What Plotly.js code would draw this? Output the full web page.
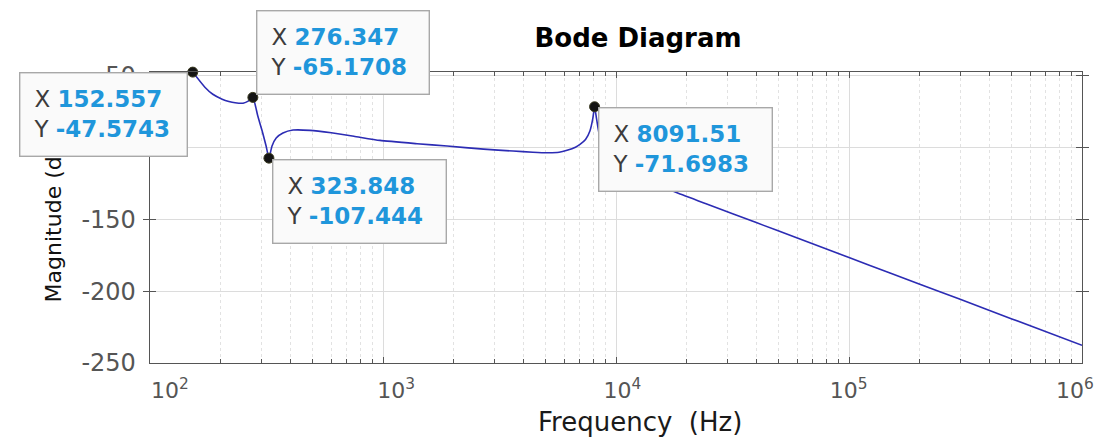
<!DOCTYPE html>
<html>
<head>
<meta charset="utf-8">
<script src="https://cdn.plot.ly/plotly-3.0.1.min.js"></script>
<style>
  html, body { margin: 0; padding: 0; background: #ffffff; }
  #plot { width: 1114px; height: 439px; }
</style>
</head>
<body>
<div id="plot"></div>
<script>
// Frequency response samples (Hz, dB)
const freqHz = [152.557, 172, 186, 204, 218, 232, 251, 265, 276.347, 290, 303, 315, 323.848,
  334, 348, 372, 411, 486, 600, 750, 970, 1400, 1884, 2700, 3614, 4400, 5058, 5700, 6166,
  6700, 7004, 7400, 7727, 7950, 8091.51, 8250, 8500, 9000, 10000, 12000, 15000, 18280,
  25000, 40000, 60000, 100000, 150000, 200000, 300000, 500000, 1000000];
const magDb = [-47.5743, -58.1, -63.0, -66.4, -68.0, -68.9, -69.2, -67.6, -65.1708, -78, -88.6, -99, -107.444,
  -99, -93.5, -90, -87.9, -88.1, -89.8, -92.2, -95.1, -97.4, -99, -101.2, -102.5, -103.3, -103.7, -103.4, -102,
  -99.8, -97.9, -94.5, -88.6, -80, -71.6983, -80, -92, -102, -110, -118, -125.5, -131.6,
  -139.9, -152.3, -163.1, -176.6, -187.4, -195.0, -205.7, -219.3, -237.7];

// Data tips
const tipFreq = [152.557, 276.347, 323.848, 8091.51];
const tipMag = [-47.5743, -65.1708, -107.444, -71.6983];

// Axis ticks
const decadeVals = [1e2, 1e3, 1e4, 1e5, 1e6];
const decadeText = ['10<sup>2</sup>', '10<sup>3</sup>', '10<sup>4</sup>', '10<sup>5</sup>', '10<sup>6</sup>'];
const magTicks = [-250, -200, -150, -100, -50];

// Minor log ticks 2..9 in each decade
const minorVals = [];
for (let d = 2; d < 6; d++) {
  for (let k = 2; k <= 9; k++) minorVals.push(k * Math.pow(10, d));
}

// Page geometry (pixels)
const W = 1114, H = 439;
const plotL = 150, plotR = 1082, plotT = 72, plotB = 362.7;
const px2x = px => (px - plotL) / (plotR - plotL);
const px2y = py => (plotB - py) / (plotB - plotT);

// Decade labels sit on a slightly narrower scale than the gridlines
const labelFirstPx = 170, labelLastPx = 1075;
const labelSpan = 4 * (plotR - plotL) / (labelLastPx - labelFirstPx);
const labelLo = 2 - (labelFirstPx - plotL) / (plotR - plotL) * labelSpan;
const labelRange = [labelLo, labelLo + labelSpan];

// Data tip box placement (top-left corner, pixels)
const tipBoxes = [
  { left: 19, top: 72, width: 140 },
  { left: 256, top: 10, width: 145 },
  { left: 272, top: 159, width: 146 },
  { left: 598, top: 107, width: 146 }
];

const FONT = 'DejaVu Sans, Arial, sans-serif';
const axisGrey = '#555555';

const tipAnnotations = tipBoxes.map((b, i) => ({
  xref: 'paper', yref: 'paper',
  x: px2x(b.left), y: px2y(b.top),
  xanchor: 'left', yanchor: 'top',
  showarrow: false,
  align: 'left',
  width: b.width,
  text: '<span style="color:#3c3c3c">X</span> <b><span style="color:#1f96db">' + tipFreq[i] + '</span></b>' +
        '<br><span style="color:#3c3c3c">Y</span> <b><span style="color:#1f96db">' + tipMag[i] + '</span></b>',
  font: { family: FONT, size: 23, color: '#3c3c3c' },
  bgcolor: '#fafafa',
  bordercolor: '#a8a8a8',
  borderwidth: 1.4,
  borderpad: 13
}));

const traces = [
  {
    x: freqHz, y: magDb,
    type: 'scatter', mode: 'lines',
    line: { color: '#2c2cb4', width: 1.6, shape: 'spline', smoothing: 0.5 },
    hoverinfo: 'skip'
  },
  {
    x: tipFreq, y: tipMag,
    type: 'scatter', mode: 'markers',
    marker: { size: 10, color: '#141414', line: { color: '#3a3a20', width: 1 } },
    cliponaxis: false,
    hoverinfo: 'skip'
  },
  {
    // carries the decade label axis; holds no points
    x: [], y: [],
    xaxis: 'x2', yaxis: 'y',
    type: 'scatter', mode: 'lines',
    hoverinfo: 'skip'
  }
];

const layout = {
  width: W, height: H,
  margin: { l: plotL, r: W - plotR, t: plotT, b: H - plotB },
  paper_bgcolor: '#ffffff',
  plot_bgcolor: '#ffffff',
  showlegend: false,
  hovermode: false,
  title: {
    text: '<b>Bode Diagram</b>',
    font: { family: FONT, size: 26, color: '#000000' },
    xref: 'container', yref: 'container',
    x: 638 / W, y: 1 - 38 / H,
    xanchor: 'center', yanchor: 'middle'
  },
  xaxis: {
    type: 'log',
    range: [2, 6],
    tickmode: 'array',
    tickvals: decadeVals,
    showticklabels: false,
    ticks: 'inside', ticklen: 6, tickwidth: 1, tickcolor: axisGrey,
    showline: true, linecolor: axisGrey, linewidth: 1.3,
    mirror: 'allticks',
    showgrid: true, gridcolor: '#dcdcdc', gridwidth: 1,
    zeroline: false,
    minor: {
      tickmode: 'array', tickvals: minorVals,
      ticks: 'inside', ticklen: 4, tickcolor: axisGrey,
      showgrid: true, gridcolor: '#e2e2e2', griddash: 'dot', gridwidth: 1
    }
  },
  xaxis2: {
    type: 'log',
    overlaying: 'x',
    anchor: 'y',
    side: 'bottom',
    range: labelRange,
    tickmode: 'array',
    tickvals: decadeVals,
    ticktext: decadeText,
    ticks: '',
    showline: false, showgrid: false, zeroline: false,
    tickfont: { family: FONT, size: 22, color: axisGrey },
    ticklabelstandoff: 12,
    ticklabeloverflow: 'allow'
  },
  yaxis: {
    range: [-250, -47.5],
    tickmode: 'array',
    tickvals: magTicks,
    ticktext: magTicks.map(String),
    ticks: 'inside', ticklen: 6, tickwidth: 1, tickcolor: axisGrey,
    showline: true, linecolor: axisGrey, linewidth: 1.3,
    mirror: 'allticks',
    showgrid: true, gridcolor: '#dcdcdc', gridwidth: 1,
    zeroline: false,
    tickfont: { family: FONT, size: 24, color: axisGrey },
    ticklabelstandoff: 8,
    title: {
      text: 'Magnitude (dB)',
      font: { family: FONT, size: 22, color: '#111111' },
      standoff: 13
    }
  },
  annotations: [
    {
      xref: 'paper', yref: 'paper',
      x: px2x(640), y: px2y(422),
      xanchor: 'center', yanchor: 'middle',
      showarrow: false,
      text: 'Frequency\u00a0 (Hz)',
      font: { family: FONT, size: 26, color: '#1a1a1a' }
    }
  ].concat(tipAnnotations)
};

Plotly.newPlot('plot', traces, layout, { staticPlot: true, displayModeBar: false });
</script>
</body>
</html>
